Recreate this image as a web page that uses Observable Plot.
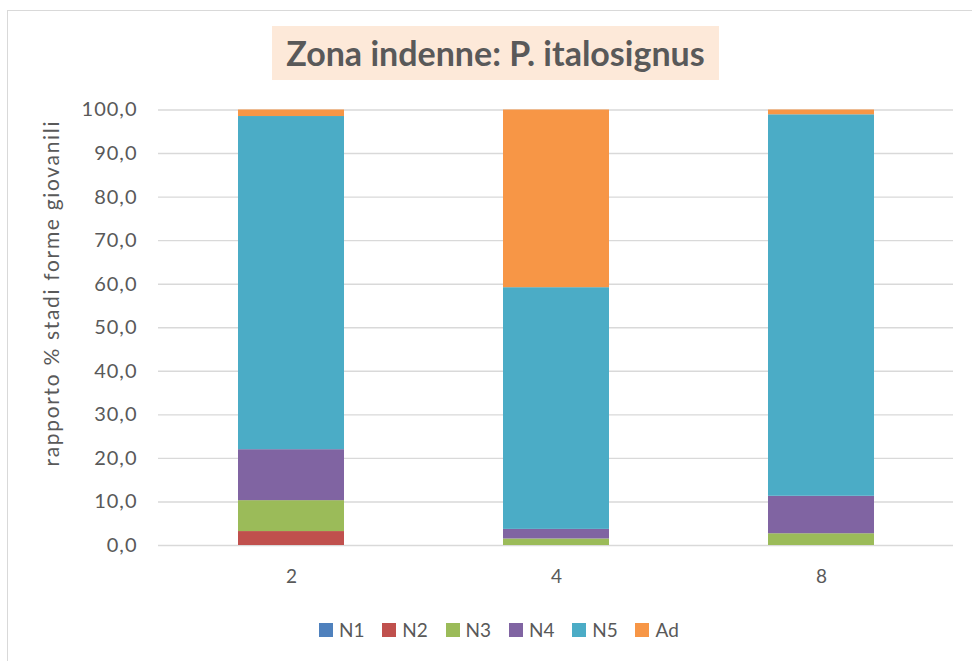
<!DOCTYPE html>
<html>
<head>
<meta charset="utf-8">
<script src="https://cdn.jsdelivr.net/npm/d3@7"></script>
<script src="https://cdn.jsdelivr.net/npm/@observablehq/plot@0.6"></script>
<style>
  html, body { margin: 0; padding: 0; background: #fff; }
  #wrap { position: relative; width: 972px; height: 661px; overflow: hidden; font-family: Lato, "Open Sans", sans-serif; color: #595959; }
  #frame { position: absolute; left: 7px; top: 10px; width: 1000px; height: 700px; border: 1.5px solid #d9d9d9; box-sizing: border-box; }
  #title { position: absolute; left: 272px; top: 26px; width: 447px; height: 54px; background: #fde9d9; font-weight: 700; font-size: 34px; line-height: 54px; text-align: center; white-space: nowrap; }
  #chart { position: absolute; left: 0; top: 0; }
  #ylabel { position: absolute; left: 0; top: 0; }
  #legend { position: absolute; left: 319px; top: 619px; height: 22px; white-space: nowrap; font-size: 19px; }
  .item { display: inline-block; width: 63.3px; height: 22px; position: relative; }
  .sw { position: absolute; left: 0; top: 4px; width: 14px; height: 14px; }
  .lab { position: absolute; left: 20px; top: 0; line-height: 22px; }
  .yax text { letter-spacing: 1px; }
</style>
</head>
<body>
<div id="wrap">
  <div id="frame"></div>
  <div id="chart"></div>
  <div id="title">Zona indenne: P. italosignus</div>
  <div id="legend"></div>
</div>
<script>
// ---- data ----
const densities = ["2", "4", "8"];
const stages = ["N1", "N2", "N3", "N4", "N5", "Ad"];
const stageColors = ["#4f81bd", "#c0504d", "#9bbb59", "#8064a2", "#4bacc6", "#f79646"];
const N1 = [0, 0, 0];
const N2 = [3.2, 0, 0];
const N3 = [7.1, 1.5, 2.7];
const N4 = [11.7, 2.2, 8.6];
const N5 = [76.5, 55.5, 87.6];
const Ad = [1.5, 40.8, 1.1];
const yTicks = [0, 10, 20, 30, 40, 50, 60, 70, 80, 90, 100];
const yLabel = "rapporto % stadi forme giovanili";
const titleText = "Zona indenne: P. italosignus";

const series = [N1, N2, N3, N4, N5, Ad];
const data = [];
densities.forEach((d, i) => {
  stages.forEach((s, j) => data.push({density: d, stage: s, value: series[j][i]}));
});
const fmt = v => v.toFixed(1).replace(".", ",");

const chart = Plot.plot({
  width: 972,
  height: 600,
  marginLeft: 158,
  marginRight: 19,
  marginTop: 109.5,
  marginBottom: 55,
  style: {fontFamily: "Lato, 'Open Sans', sans-serif", fontSize: "19px", color: "#595959", background: "transparent", overflow: "visible"},
  x: {domain: densities, paddingInner: 0.6, paddingOuter: 0.3, label: null},
  y: {domain: [0, 100], label: null},
  color: {domain: stages, range: stageColors},
  marks: [
    Plot.ruleY(yTicks, {stroke: "#d9d9d9", strokeWidth: 1.4}),
    Plot.barY(data, {x: "density", y: "value", fill: "stage"}),
    Plot.axisY({ticks: yTicks, tickSize: 0, tickPadding: 21, tickFormat: fmt, label: null, fill: "#595959", fontSize: 20, className: "yax"}),
    Plot.axisX({tickSize: 0, tickPadding: 24, label: null, fill: "#595959"})
  ]
});
document.getElementById("chart").appendChild(chart);

// y-axis title
const ys = d3.select("#wrap").append("svg").attr("id", "ylabel")
  .attr("width", 120).attr("height", 661);
ys.append("text")
  .attr("transform", "translate(50,294) rotate(-90)")
  .attr("text-anchor", "middle")
  .attr("dominant-baseline", "central")
  .attr("font-family", "Lato, 'Open Sans', sans-serif")
  .attr("font-size", 21)
  .attr("fill", "#595959")
  .attr("textLength", 345)
  .attr("lengthAdjust", "spacing")
  .text(yLabel);

// legend
const lg = d3.select("#legend");
stages.forEach((s, i) => {
  const it = lg.append("div").attr("class", "item");
  it.append("div").attr("class", "sw").style("background", stageColors[i]);
  it.append("div").attr("class", "lab").text(s);
});
</script>
</body>
</html>
